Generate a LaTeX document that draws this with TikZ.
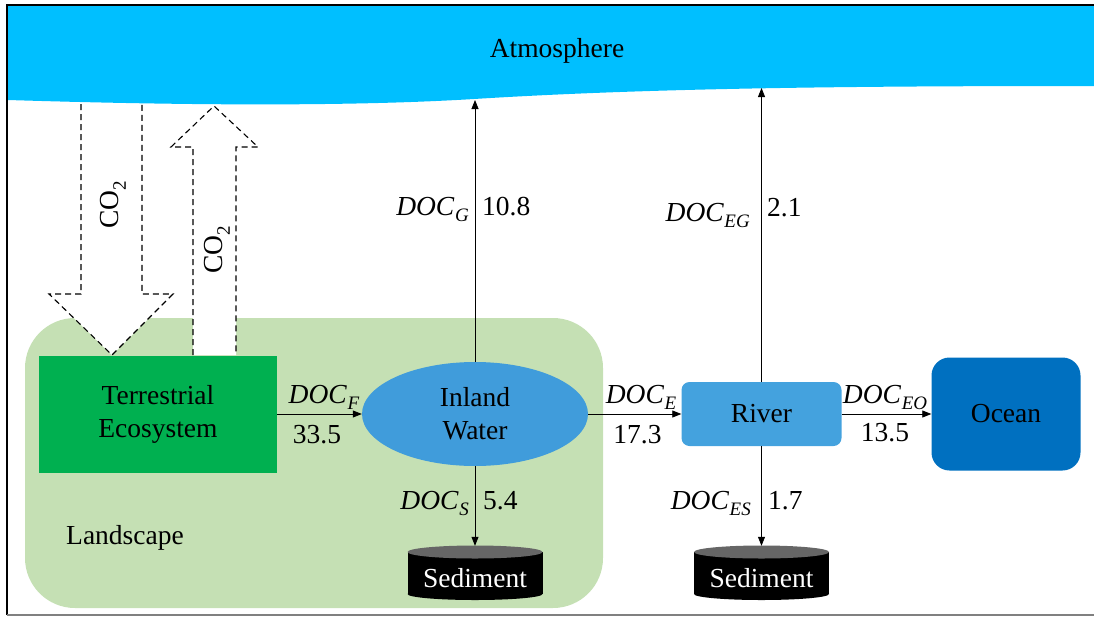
\documentclass[tikz,border=0pt]{standalone}
\usepackage{fontspec}
\setmainfont{Liberation Serif}
\usetikzlibrary{arrows.meta,shapes.geometric}
\definecolor{atm}{HTML}{00BFFF}
\definecolor{land}{HTML}{C5E0B4}
\definecolor{terr}{HTML}{00B050}
\definecolor{inland}{HTML}{409CDB}
\definecolor{river}{HTML}{44A2DE}
\definecolor{ocean}{HTML}{0070C0}
\definecolor{sedtop}{HTML}{666666}
\newcommand\docsub[1]{\textit{DOC}\kern0.5pt\raisebox{-0.25em}{\fontsize{19}{20}\selectfont\textit{#1}}}
\newcommand\cotwo{CO\raisebox{-0.28em}{\fontsize{19}{20}\selectfont 2}}
\begin{document}
\begin{tikzpicture}[x=1pt,y=-1pt,
  every node/.style={font=\fontsize{27.5}{33}\selectfont},
  flow/.style={draw=black, line width=0.8pt, -{Triangle[length=9pt,width=7pt]}},
  co2arrow/.style={draw=black, fill=white, dash pattern=on 6pt off 4pt, line width=1.1pt},
  lbl/.style={inner sep=0pt},
  boxnode/.style={inner sep=0pt, align=center},
  sedshape/.style={inner sep=0pt, minimum width=135pt, minimum height=54pt},
]
\useasboundingbox (0,0) rectangle (1094,618);
% atmosphere
\fill[atm] (8,6) -- (1094,6) -- (1094,86) .. controls (850,86) and (650,88) .. (474,99)
  .. controls (360,106) and (200,106) .. (8,100) -- cycle;
\node[lbl, anchor=base] (atmtext) at (557,57) {Atmosphere};
% frame
\draw[black, line width=1.5pt] (7,615) -- (7,5) -- (1094,5);
\draw[gray, line width=1.2pt] (7,615) -- (1094,615);
% landscape
\node[fill=land, rounded corners=50pt, minimum width=578pt, minimum height=290pt, inner sep=0pt] (landscape) at (314,463) {};
\node[lbl, anchor=base west] (landlbl) at (66,544) {Landscape};
% CO2 arrows
\path[co2arrow] (81,104) -- (81,294) -- (49,294) -- (112,355) -- (173,294) -- (142,294) -- (142,104);
\path[co2arrow] (193,355) -- (193,147) -- (171,147) -- (214,106) -- (258,147) -- (236,147) -- (236,355);
\node[lbl, rotate=90] (co2down) at (113,205) {\cotwo};
\node[lbl, rotate=90] (co2up) at (217,250) {\cotwo};
% main nodes
\node[boxnode, fill=terr, minimum width=238pt, minimum height=117pt] (terr) at (158,414) {Terrestrial\\Ecosystem};
\node[boxnode, ellipse, fill=inland, minimum width=226pt, minimum height=104pt] (iw) at (475,414) {Inland\\Water};
\node[boxnode, fill=river, rounded corners=8pt, minimum width=160pt, minimum height=64pt] (river) at (761.5,414) {River};
\node[boxnode, fill=ocean, rounded corners=18pt, minimum width=149pt, minimum height=113pt] (ocean) at (1006,414) {Ocean};
% sediments
\fill[black] (407.5,552) rectangle (542.5,594);
\fill[black] (475,594) ellipse [x radius=67.5, y radius=6];
\fill[sedtop] (475,552) ellipse [x radius=67.5, y radius=6.5];
\node[sedshape] (sed1) at (475,573) {};
\node[lbl, text=white, anchor=base] (sed1t) at (475,587) {Sediment};
\fill[black] (694,552) rectangle (829,594);
\fill[black] (761.5,594) ellipse [x radius=67.5, y radius=6];
\fill[sedtop] (761.5,552) ellipse [x radius=67.5, y radius=6.5];
\node[sedshape] (sed2) at (761.5,573) {};
\node[lbl, text=white, anchor=base] (sed2t) at (761.5,587) {Sediment};
% free ends in the atmosphere
\coordinate (atm1) at (475,100);
\coordinate (atm2) at (761.5,88);
% connectors
\draw[flow] (terr.east) -- (iw.west);
\draw[flow] (iw.east) -- (river.west);
\draw[flow] (river.east) -- (ocean.west);
\draw[flow] (iw.north) -- (atm1);
\draw[flow] (river.north) -- (atm2);
\draw[flow] (iw.south) -- (sed1.north);
\draw[flow] (river.south) -- (sed2.north);
% labels
\node[lbl, anchor=base] (lF) at (324,403) {\docsub{F}};
\node[lbl, anchor=base] (vF) at (317,443) {33.5};
\node[lbl, anchor=base] (lE) at (641,403) {\docsub{E}};
\node[lbl, anchor=base] (vE) at (637.5,443) {17.3};
\node[lbl, anchor=base] (lEO) at (885,403) {\docsub{EO}};
\node[lbl, anchor=base] (vEO) at (885,441) {13.5};
\node[lbl, anchor=base east] (lG) at (469,215) {\docsub{G}};
\node[lbl, anchor=base west] (vG) at (482,215) {10.8};
\node[lbl, anchor=base east] (lEG) at (750,221) {\docsub{EG}};
\node[lbl, anchor=base west] (vEG) at (767,216) {2.1};
\node[lbl, anchor=base east] (lS) at (469,509) {\docsub{S}};
\node[lbl, anchor=base west] (vS) at (483,509) {5.4};
\node[lbl, anchor=base east] (lES) at (751,509) {\docsub{ES}};
\node[lbl, anchor=base west] (vES) at (768,509) {1.7};
\end{tikzpicture}
\end{document}
